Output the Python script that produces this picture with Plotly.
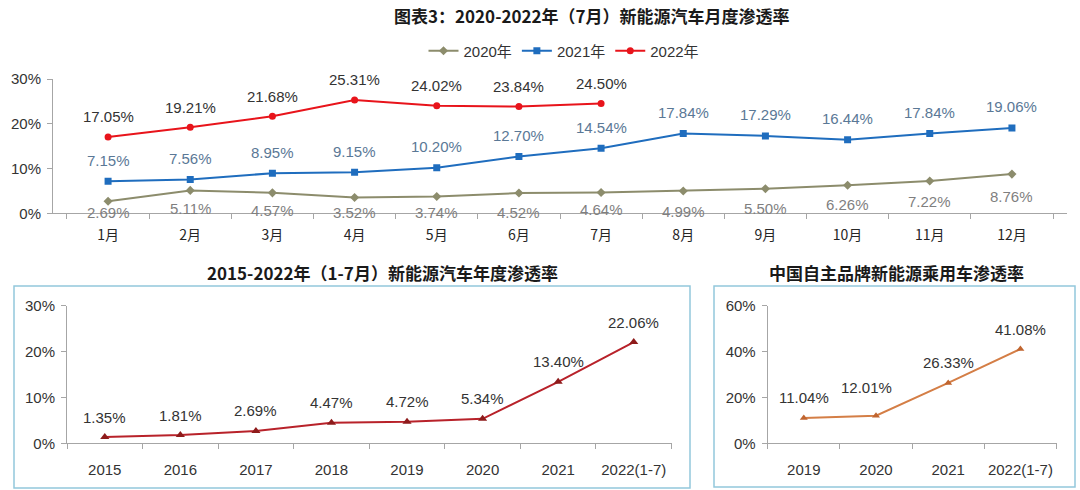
import plotly.graph_objects as go

# ---------------- data ----------------
months = ["1月", "2月", "3月", "4月", "5月", "6月", "7月", "8月", "9月", "10月", "11月", "12月"]
pen_2020 = [2.69, 5.11, 4.57, 3.52, 3.74, 4.52, 4.64, 4.99, 5.50, 6.26, 7.22, 8.76]
pen_2021 = [7.15, 7.56, 8.95, 9.15, 10.20, 12.70, 14.54, 17.84, 17.29, 16.44, 17.84, 19.06]
pen_2022 = [17.05, 19.21, 21.68, 25.31, 24.02, 23.84, 24.50]

years_annual = ["2015", "2016", "2017", "2018", "2019", "2020", "2021", "2022(1-7)"]
pen_annual = [1.35, 1.81, 2.69, 4.47, 4.72, 5.34, 13.40, 22.06]

years_brand = ["2019", "2020", "2021", "2022(1-7)"]
pen_brand = [11.04, 12.01, 26.33, 41.08]

title_main = "图表3：2020-2022年（7月）新能源汽车月度渗透率"
title_annual = "2015-2022年（1-7月）新能源汽车年度渗透率"
title_brand = "中国自主品牌新能源乘用车渗透率"

# ---------------- style ----------------
W, H = 1080, 490
NUM_FONT = "Liberation Sans, Arial, Noto Sans CJK SC"
CJK_FONT = "Noto Sans CJK SC, Liberation Sans"
AXIS_COL = "#A6A6A6"
C2020, C2021, C2022 = "#8C8C6C", "#1F6DBE", "#E8141B"
L2020, L2021, L2022 = "#7F7F7F", "#5A7896", "#333333"
C_ANN, M_ANN = "#B8222A", "#8E1B1B"
C_BR, M_BR = "#D47E46", "#C0652F"
BOX_COL = "#93C8DC"

# label offsets (pixels)
off_2020 = [-11, -18, -18, -15, -16, -19, -17, -21, -20, -19, -21, -22]
off_brand_y = [20, 28, 20, 20]
off_brand_x = [0, -10, 0, 0]


def px_x(p):
    return p / W


def px_y(p):
    return 1 - p / H


# positions of the categories on the lower (index) axes
pos_annual = list(range(len(years_annual)))
pos_brand = list(range(len(years_brand)))

fig = go.Figure()

# top chart
fig.add_trace(go.Scatter(x=months, y=pen_2020, name="2020年", mode="lines+markers",
                         line=dict(color=C2020, width=2),
                         marker=dict(symbol="diamond", size=7, color=C2020),
                         xaxis="x", yaxis="y"))
fig.add_trace(go.Scatter(x=months, y=pen_2021, name="2021年", mode="lines+markers",
                         line=dict(color=C2021, width=2),
                         marker=dict(symbol="square", size=7, color=C2021),
                         xaxis="x", yaxis="y"))
fig.add_trace(go.Scatter(x=months[:len(pen_2022)], y=pen_2022, name="2022年", mode="lines+markers",
                         line=dict(color=C2022, width=2),
                         marker=dict(symbol="circle", size=7, color=C2022),
                         xaxis="x", yaxis="y"))

# bottom-left
fig.add_trace(go.Scatter(x=pos_annual, y=pen_annual, mode="lines+markers", showlegend=False,
                         line=dict(color=C_ANN, width=2),
                         marker=dict(symbol="triangle-up", size=8, color=M_ANN),
                         xaxis="x2", yaxis="y2"))
# bottom-right
fig.add_trace(go.Scatter(x=pos_brand, y=pen_brand, mode="lines+markers", showlegend=False,
                         line=dict(color=C_BR, width=2),
                         marker=dict(symbol="triangle-up", size=7, color=M_BR),
                         xaxis="x3", yaxis="y3"))

ann = []
for i, v in enumerate(pen_2022):
    ann.append(dict(x=months[i], y=v, xref="x", yref="y", text=f"{v:.2f}%", showarrow=False,
                    yshift=20, font=dict(family=NUM_FONT, size=15, color=L2022)))
for i, v in enumerate(pen_2021):
    ann.append(dict(x=months[i], y=v, xref="x", yref="y", text=f"{v:.2f}%", showarrow=False,
                    yshift=21, font=dict(family=NUM_FONT, size=15, color=L2021)))
for i, v in enumerate(pen_2020):
    ann.append(dict(x=months[i], y=v, xref="x", yref="y", text=f"{v:.2f}%", showarrow=False,
                    yshift=off_2020[i], font=dict(family=NUM_FONT, size=15, color=L2020)))
for i, v in enumerate(pen_annual):
    ann.append(dict(x=pos_annual[i], y=v, xref="x2", yref="y2", text=f"{v:.2f}%", showarrow=False,
                    yshift=20, font=dict(family=NUM_FONT, size=15, color="#333333")))
for i, v in enumerate(pen_brand):
    ann.append(dict(x=pos_brand[i], y=v, xref="x3", yref="y3", text=f"{v:.2f}%", showarrow=False,
                    yshift=off_brand_y[i], xshift=off_brand_x[i],
                    font=dict(family=NUM_FONT, size=15, color="#333333")))

# titles
for txt, cx, cy in [(title_main, 592, 16), (title_annual, 382, 272), (title_brand, 896, 272)]:
    ann.append(dict(x=px_x(cx), y=px_y(cy), xref="paper", yref="paper", text=f"<b>{txt}</b>",
                    xanchor="center", yanchor="middle", showarrow=False,
                    font=dict(family=CJK_FONT, size=17, color="#1a1a1a")))

shapes = [
    dict(type="rect", xref="paper", yref="paper", x0=px_x(14), x1=px_x(690), y0=px_y(488), y1=px_y(286),
         line=dict(color=BOX_COL, width=1.5)),
    dict(type="rect", xref="paper", yref="paper", x0=px_x(714), x1=px_x(1075), y0=px_y(487), y1=px_y(286),
         line=dict(color=BOX_COL, width=1.5)),
]


def xcat(domain, size, anchor):
    return dict(domain=domain, anchor=anchor, type="category", showline=True, linecolor=AXIS_COL,
                linewidth=1, ticks="outside", tickson="boundaries", ticklen=5, tickcolor=AXIS_COL,
                ticklabelstandoff=9,
                showgrid=False, zeroline=False, fixedrange=True, automargin=False,
                tickfont=dict(family=CJK_FONT, size=size, color="#262626"))


def xidx(domain, size, anchor, labels):
    n = len(labels)
    return dict(domain=domain, anchor=anchor, type="linear", range=[-0.5, n - 0.5],
                tickmode="array", tickvals=list(range(n)), ticktext=labels, ticks="",
                ticklabelstandoff=13,
                minor=dict(tickmode="array", tickvals=[i - 0.5 for i in range(n + 1)],
                           ticks="outside", ticklen=5, tickcolor=AXIS_COL, showgrid=False),
                showline=True, linecolor=AXIS_COL, linewidth=1,
                showgrid=False, zeroline=False, fixedrange=True, automargin=False,
                tickfont=dict(family=NUM_FONT, size=size, color="#333333"))


def yax(domain, rng, dtick, anchor):
    return dict(domain=domain, anchor=anchor, range=rng, dtick=dtick, ticksuffix="%", showline=True,
                linecolor=AXIS_COL, linewidth=1, ticks="outside", ticklen=5, tickcolor=AXIS_COL,
                ticklabelstandoff=3,
                showgrid=False, zeroline=False, fixedrange=True, automargin=False,
                tickfont=dict(family=NUM_FONT, size=15, color="#333333"))


fig.update_layout(
    width=W, height=H, margin=dict(l=0, r=0, t=0, b=0, autoexpand=False),
    paper_bgcolor="white", plot_bgcolor="white",
    showlegend=True,
    legend=dict(orientation="h", x=px_x(564), xanchor="center", y=px_y(51), yanchor="middle",
                font=dict(family=NUM_FONT, size=15, color="#333333"), itemwidth=30,
                bgcolor="rgba(0,0,0,0)", tracegroupgap=0),
    xaxis=xcat([px_x(53), px_x(1067)], 14, "y"),
    yaxis=yax([px_y(213.3), px_y(79)], [0, 30], 10, "x"),
    xaxis2=xidx([px_x(67), px_x(671.5)], 15, "y2", years_annual),
    yaxis2=yax([px_y(443.3), px_y(305.7)], [0, 30], 10, "x2"),
    xaxis3=xidx([px_x(767.7), px_x(1056.5)], 15, "y3", years_brand),
    yaxis3=yax([px_y(443.3), px_y(305.7)], [0, 60], 20, "x3"),
    annotations=ann,
    shapes=shapes,
)

fig.write_html("out.html", config={"displayModeBar": False},
               post_script="document.body.style.margin='0';document.body.style.overflow='hidden';")
